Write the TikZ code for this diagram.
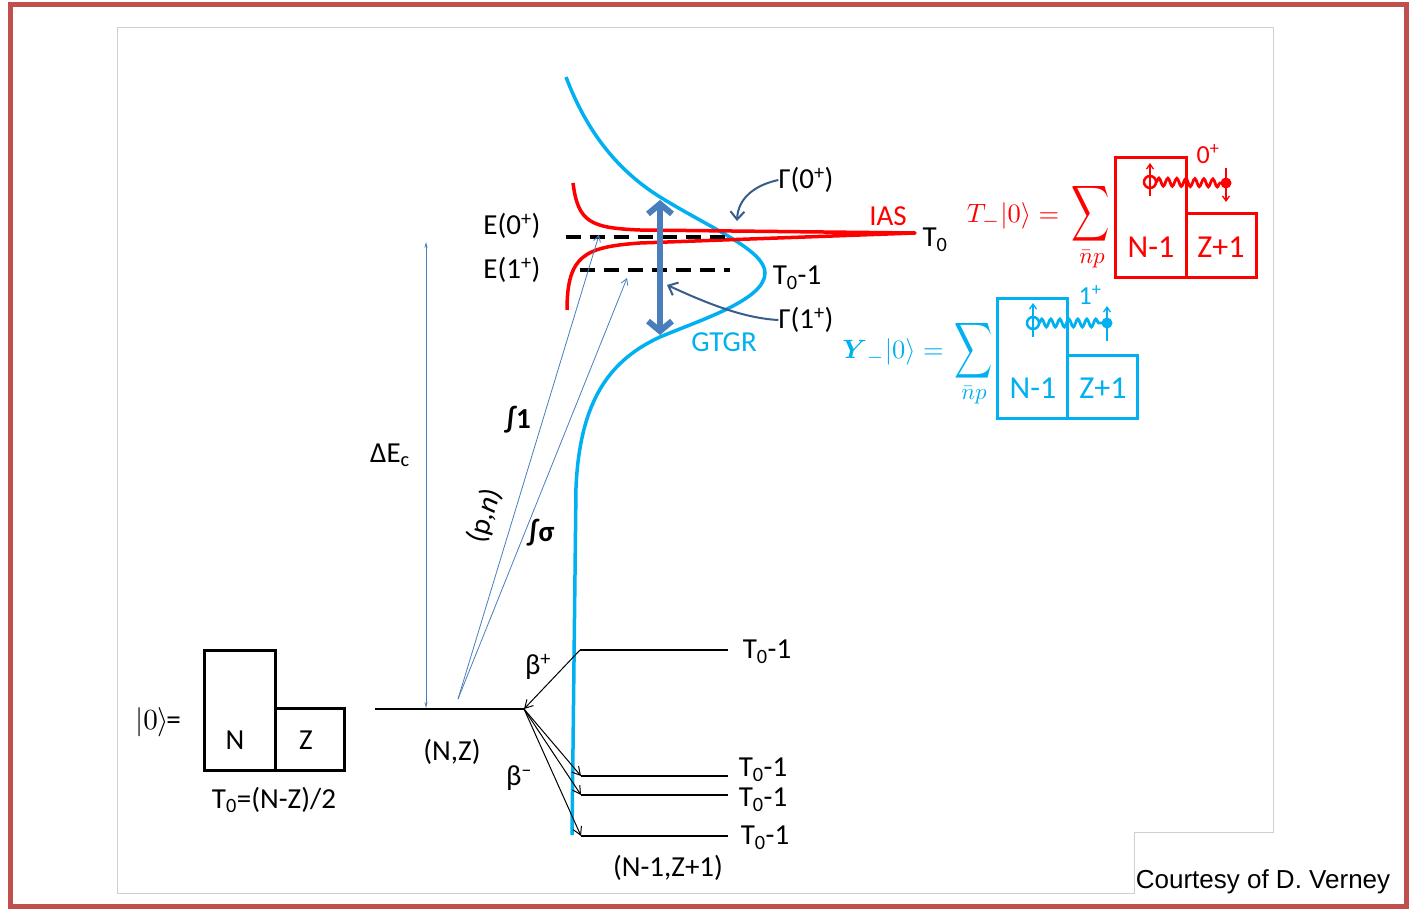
\documentclass[tikz,border=0pt]{standalone}
\usepackage{amsmath}
\usepackage{fontspec}
\setmainfont{Carlito}
\newfontfamily\arialf{Liberation Sans}
\usetikzlibrary{arrows.meta,decorations.pathmorphing}
\definecolor{cy}{HTML}{00B0F0}
\definecolor{rd}{HTML}{FF0000}
\definecolor{sb}{HTML}{4A7EBB}
\definecolor{db}{HTML}{385D8A}
\definecolor{fr}{HTML}{C0504D}
\definecolor{gr}{HTML}{CFCFCF}
\begin{document}
\begin{tikzpicture}[x=1pt,y=-1pt,
  lbl/.style={inner sep=0pt, font=\fontsize{29}{34}\selectfont},
  big/.style={inner sep=0pt, font=\fontsize{32}{36}\selectfont},
  mth/.style={inner sep=0pt, font=\normalsize, scale=2.65},
  sumst/.style={inner sep=0pt, font=\normalsize, scale=3.9, xscale=0.68},
  npst/.style={inner sep=0pt, font=\normalsize, scale=2.3},
  level/.style={black, line width=2},
  barrow/.style={black, line width=1, -{Straight Barb[length=8pt,width=9pt]}},
  thinblue/.style={sb, line width=0.8},
  gamarrow/.style={db, line width=2, -{Straight Barb[length=8pt,width=14pt]}},
  boxline/.style={line width=3},
  snk/.style={decorate, decoration={snake, amplitude=4pt, segment length=9pt}, line width=2.8}
]
\useasboundingbox (0,0) rectangle (1412,909);
\fill[white] (0,0) rectangle (1412,909);
% frame
\draw[fr, line width=5] (10,5) rectangle (1406,906);
\draw[gr, line width=0.8] (117,27) -- (1273,27) -- (1273,832) -- (1134,832) -- (1134,893) -- (117,893) -- cycle;

% cyan GTGR curve
\draw[cy, line width=3.5] (566,77) .. controls (588,135) and (620,172) .. (660,197)
  .. controls (710,228) and (765,250) .. (765,273)
  .. controls (765,300) and (700,320) .. (660,337)
  .. controls (610,360) and (580,400) .. (576,487) -- (572,835);

% red IAS curve
\draw[rd, line width=3.5, line join=round] (573,183) .. controls (578,222) and (590,228) .. (640,230)
  -- (915,233) -- (640,243) .. controls (585,247) and (567,255) .. (567,310);

% dashed levels
\draw[black, line width=3.5, dash pattern=on 15pt off 9pt] (566,237) -- (732,237);
\draw[black, line width=3.5, dash pattern=on 15pt off 9pt] (580,270) -- (730,270);

% thick double arrow
\draw[sb, line width=6, {Straight Barb[length=10pt,width=24pt]}-{Straight Barb[length=10pt,width=24pt]}] (660,200) -- (660,335);

% labels upper
\node[lbl] (e0) at (512,226) {E(0\textsuperscript{+})};
\node[lbl] (e1) at (512,270) {E(1\textsuperscript{+})};
\node[lbl, text=rd] (ias) at (888,216) {IAS};
\node[lbl] (t0) at (935,240) {T\textsubscript{0}};
\node[lbl] (t0m) at (797,278) {T\textsubscript{0}-1};
\node[lbl] (g0) at (806,180) {Γ(0\textsuperscript{+})};
\node[lbl] (g1) at (806,320) {Γ(1\textsuperscript{+})};
\node[lbl, text=cy] (gtgr) at (724,342) {GTGR};

\coordinate (g0t) at (737,221);
\coordinate (g1t) at (667,285);
\draw[gamarrow] (g0.west) .. controls (755,185) and (738,198) .. (g0t);
\draw[gamarrow] (g1.west) .. controls (740,318) and (700,300) .. (g1t);

% ground state
\coordinate (gl) at (375,709);
\coordinate (gr) at (524,709);
\draw[level] (gl) -- (gr);
\node[lbl] (nz) at (452,752) {(N,Z)};

% Delta E_c
\coordinate (dtop) at (426,242);
\coordinate (dbot) at (426,708);
\draw[thinblue, {Stealth[length=6pt,width=3pt]}-{Stealth[length=6pt,width=3pt]}] (dtop) -- (dbot);
\node[lbl] (dec) at (390,455) {ΔE\textsubscript{c}};

% (p,n) arrows
\coordinate (pn) at (458,699);
\coordinate (pa1) at (599,235);
\coordinate (pa2) at (627,278);
\draw[thinblue, -{Straight Barb[length=6pt,width=7pt]}] (pn) -- (pa1);
\draw[thinblue, -{Straight Barb[length=6pt,width=7pt]}] (pn) -- (pa2);
\node[lbl, rotate=73] (pnl) at (485,516) {(p,\textit{n})};
\node[lbl, font=\fontsize{29}{34}\selectfont\bfseries] (i1) at (518,420) {∫1};
\node[lbl, font=\fontsize{29}{34}\selectfont\bfseries] (is) at (541,533) {∫σ};

% daughter levels
\coordinate (bp) at (580,650);
\coordinate (m1) at (581,776);
\coordinate (m2) at (581,795);
\coordinate (m3) at (581,836);
\draw[level] (bp) -- (728,650);
\draw[level] (m1) -- (728,776);
\draw[level] (m2) -- (728,795);
\draw[level] (m3) -- (728,836);
\draw[barrow] (bp) -- (gr);
\draw[barrow] (gr) -- (m1);
\draw[barrow] (gr) -- (m2);
\draw[barrow] (gr) -- (m3);
\node[lbl] (l1) at (767,652) {T\textsubscript{0}-1};
\node[lbl] (l2) at (763,770) {T\textsubscript{0}-1};
\node[lbl] (l3) at (763,800) {T\textsubscript{0}-1};
\node[lbl] (l4) at (765,838) {T\textsubscript{0}-1};
\node[lbl] (bpl) at (538,667) {β\textsuperscript{+}};
\node[lbl] (bml) at (519,778) {β\textsuperscript{–}};
\node[lbl] (nz1) at (668,868) {(N-1,Z+1)};

% ground state boxes
\draw[boxline] (204,650) rectangle (275,770);
\draw[boxline] (275,708) rectangle (344,770);
\node[lbl] (bn) at (235,740) {N};
\node[lbl] (bz) at (306,740) {Z};
\node[mth, scale=1.1] (ket) at (158,722) {$|0\rangle$\kern-1pt=};
\node[lbl] (t0def) at (274,800) {T\textsubscript{0}=(N-Z)/2};

% red formula
\node[mth, text=rd] (tf) at (1013,216) {$T_{-}|0\rangle =$};
\node[sumst, text=rd] (tsum) at (1091,214) {$\displaystyle\sum$};
\node[npst, text=rd] (tnp) at (1092,259) {$\bar{n}p$};
\draw[rd, boxline] (1115,158) rectangle (1186,277);
\draw[rd, boxline] (1186,214) rectangle (1256,277);
\node[big, text=rd] (rn1) at (1151,247) {N-1};
\node[big, text=rd] (rz1) at (1221,247) {Z+1};
\node[lbl, font=\fontsize{26}{30}\selectfont, text=rd] (r0p) at (1208,154) {0\textsuperscript{+}};
\draw[rd, line width=2.5] (1150,182) circle (6);
\fill[rd] (1226,183) circle (5.5);
\draw[rd, snk] (1156,182) -- (1221,183);
\draw[rd, line width=1.3, -{Straight Barb[length=5pt,width=7pt]}] (1150,196) -- (1150,163);
\draw[rd, line width=1.3, -{Straight Barb[length=5pt,width=7pt]}] (1226,168) -- (1226,202);

% cyan formula
\node[mth, text=cy] (yf) at (893,352) {$\boldsymbol{Y}_{-}|0\rangle =$};
\node[sumst, text=cy] (ysum) at (974,351) {$\displaystyle\sum$};
\node[npst, text=cy] (ynp) at (974,395) {$\bar{n}p$};
\draw[cy, boxline] (997,298) rectangle (1067,418);
\draw[cy, boxline] (1067,355) rectangle (1137,418);
\node[big, text=cy] (cn1) at (1033,388) {N-1};
\node[big, text=cy] (cz1) at (1103,388) {Z+1};
\node[lbl, font=\fontsize{26}{30}\selectfont, text=cy] (c1p) at (1090,295) {1\textsuperscript{+}};
\draw[cy, line width=2.5] (1033,323) circle (6);
\fill[cy] (1107,323) circle (5.5);
\draw[cy, snk] (1039,323) -- (1102,323);
\draw[cy, line width=1.3, -{Straight Barb[length=5pt,width=7pt]}] (1033,337) -- (1033,303);
\draw[cy, line width=1.3, -{Straight Barb[length=5pt,width=7pt]}] (1107,341) -- (1107,306);

% courtesy
\node[inner sep=0pt, font=\arialf\fontsize{26}{30}\selectfont] (ct) at (1263,882) {Courtesy of D. Verney};
\end{tikzpicture}
\end{document}
